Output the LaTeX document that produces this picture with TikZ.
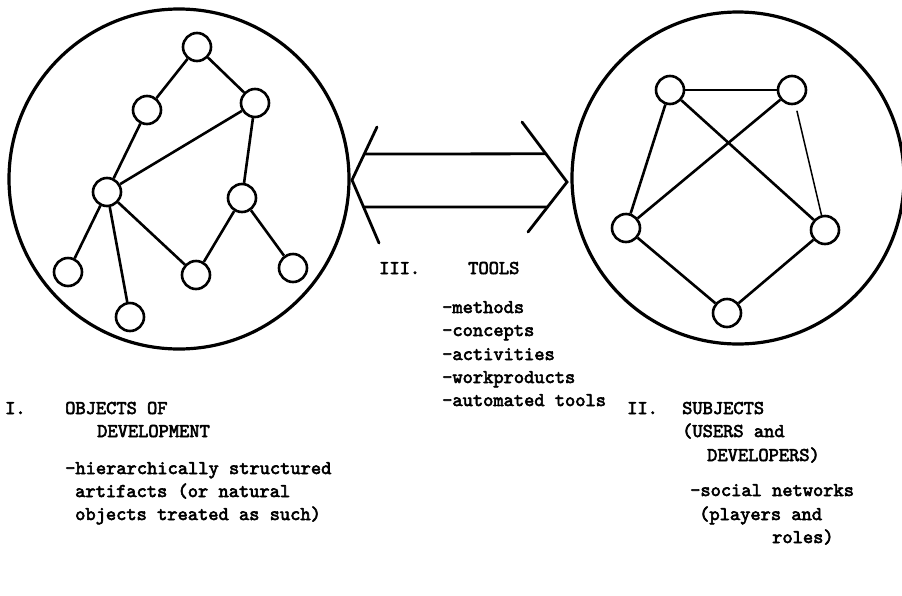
\documentclass[tikz,border=0pt]{standalone}
\usepackage{fontspec}
\newfontfamily\typewriter{lmmono10-regular.otf}[AutoFakeBold=3]
\usetikzlibrary{calc}
\tikzset{
    vertex/.style = {
        draw,
        circle,
        line width=2.6pt,
        minimum size=28pt,
        inner sep=0pt,
        },
    link/.style = {
        line width=2.6pt,
        },
    weak link/.style = {
        line width=1.5pt,
        },
    world/.style = {
        line width=3.2pt,
        },
    bridge/.style = {
        line width=2.8pt,
        line cap=round,
        },
    typed/.style = {
        anchor=west,
        inner sep=0pt,
        text height=12pt,
        text depth=0pt,
        font=\typewriter\bfseries\fontsize{19.5}{24}\selectfont,
        },
}

\begin{document}
\begin{tikzpicture}[x=1pt,y=-1pt]
    \useasboundingbox (0,0) rectangle (902,595);

    % the two worlds
    \draw[world] (179,179) circle (170);
    \draw[world] (738,178) circle (166);

    % objects: a hierarchy
    \node[vertex] (l1) at (197,47) {};
    \node[vertex] (l2) at (147,110) {};
    \node[vertex] (l3) at (255,103) {};
    \node[vertex] (l4) at (107,192) {};
    \node[vertex] (l5) at (242,198) {};
    \node[vertex] (l6) at (68,272) {};
    \node[vertex] (l7) at (130,317) {};
    \node[vertex] (l8) at (196,275) {};
    \node[vertex] (l9) at (293,268) {};

    \path[link] (l1) edge (l2);
    \path[link] (l1) edge (l3);
    \path[link] (l2) edge (l4);
    \path[link] (l3) edge (l4);
    \path[link] (l3) edge (l5);
    \path[link] (l4) edge (l6);
    \path[link] (l4) edge (l7);
    \path[link] (l4) edge (l8);
    \path[link] (l5) edge (l8);
    \path[link] (l5) edge (l9);

    % subjects: a network
    \node[vertex] (r1) at (670,90) {};
    \node[vertex] (r2) at (792,90) {};
    \node[vertex] (r3) at (626,228) {};
    \node[vertex] (r4) at (825,230) {};
    \node[vertex] (r5) at (727,313) {};

    \path[link] (r1) edge (r2);
    \path[link] (r1) edge (r3);
    \path[link] (r1) edge (r4);
    \path[link] (r2) edge (r3);
    \path[weak link] (r2) edge[shorten <=6pt] (r4);
    \path[link] (r3) edge (r5);
    \path[link] (r4) edge (r5);

    % open double arrow between them
    \coordinate (ltip) at (352,180);
    \coordinate (lup) at (377,127);
    \coordinate (ldown) at (379,243);
    \coordinate (rtip) at (567,182);
    \coordinate (rup) at (522,122);
    \coordinate (rdown) at (528,232);
    \draw[bridge] (lup) -- (ltip) -- (ldown);
    \draw[bridge] (rup) -- (rtip) -- (rdown);
    \draw[bridge] ($(ltip)!0.49!(lup)$) -- ($(rtip)!0.47!(rup)$);
    \draw[bridge] ($(ltip)!0.43!(ldown)$) -- ($(rtip)!0.5!(rdown)$);

    % tools
    \node[typed] (t0) at (379,268) {III.};
    \node[typed] (t1) at (468,268) {TOOLS};
    \node[typed] (t2) at (442,307) {-methods};
    \node[typed] (t3) at (442,330) {-concepts};
    \node[typed] (t4) at (442,354) {-activities};
    \node[typed] (t5) at (442,377) {-workproducts};
    \node[typed] (t6) at (442,400) {-automated tools};

    % objects of development
    \node[typed] (o0) at (5,408) {I.};
    \node[typed] (o1) at (65,408) {OBJECTS OF};
    \node[typed] (o2) at (97,431) {DEVELOPMENT};
    \node[typed] (o3) at (65,468) {-hierarchically structured};
    \node[typed] (o4) at (75,491) {artifacts (or natural};
    \node[typed] (o5) at (75,514) {objects treated as such)};

    % subjects
    \node[typed] (s0) at (627,408) {II.};
    \node[typed] (s1) at (682,408) {SUBJECTS};
    \node[typed] (s2) at (682,431) {(USERS and};
    \node[typed] (s3) at (707,455) {DEVELOPERS)};
    \node[typed] (s4) at (690,490) {-social networks};
    \node[typed] (s5) at (699,514) {(players and};
    \node[typed] (s6) at (772,537) {roles)};
\end{tikzpicture}
\end{document}
